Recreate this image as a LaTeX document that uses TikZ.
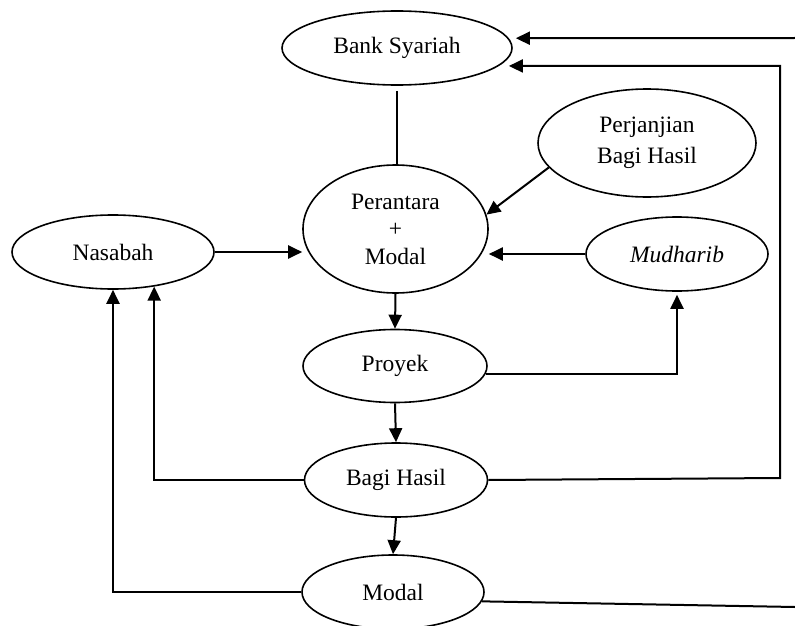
\documentclass[tikz,border=0pt]{standalone}
\usepackage{fontspec}
\setmainfont{Liberation Serif}
\usetikzlibrary{arrows.meta,shapes.geometric}

\tikzset{
  oval/.style={draw, ellipse, line width=1.6pt, inner sep=0pt,
    align=center, font=\fontsize{23.5}{27.5}\selectfont},
  flow/.style={line width=2pt, -{Triangle[length=14pt,width=13pt]}},
  link/.style={line width=2pt},
  tie/.style={line width=1.5pt}
}

\begin{document}
\begin{tikzpicture}[x=1pt,y=-1pt]
  \useasboundingbox (0,0) rectangle (795,626);

  % nodes
  \node[oval, minimum width=230pt, minimum height=74pt]  (bk)  at (397,48)   {Bank Syariah};
  \node[oval, minimum width=218pt, minimum height=108pt,
        font=\fontsize{23.5}{31.5}\selectfont]            (pj)  at (647,143)  {Perjanjian\\Bagi Hasil};
  \node[oval, minimum width=185pt, minimum height=128pt] (per) at (395.5,229) {Perantara\\+\\Modal};
  \node[oval, minimum width=202pt, minimum height=74pt]  (nas) at (113,252)  {Nasabah};
  \node[oval, minimum width=182pt, minimum height=74pt]  (mud) at (677,254)  {\itshape Mudharib};
  \node[oval, minimum width=184pt, minimum height=73pt]  (pro) at (395,366)  {Proyek};
  \node[oval, minimum width=183pt, minimum height=74pt]  (bh)  at (396,480)  {Bagi Hasil};
  \node[oval, minimum width=182pt, minimum height=74pt]  (mod) at (393,592)  {Modal};

  % loose ends at the right margin
  \coordinate (tp) at (795,38);
  \coordinate (rc) at (780,478);
  \coordinate (mr) at (795,607);

  % connectors
  \draw[tie, shorten <=5pt] (bk.south) -- (bk.south |- per.north);
  \draw[flow] (pj.194) -- (per.9);
  \draw[flow] (nas.east) -- (per.west |- nas.east);
  \draw[flow] (mud.west) -- (per.east |- mud.west);
  \draw[flow] (per.south) -- (pro.north);
  \draw[flow, shorten >=3pt] (pro.-5) -| (mud.south);
  \draw[flow] (pro.south) -- (bh.north);
  \draw[flow] (bh.south) -- (mod.north);
  \draw[flow] (bh.west) -| (nas.-40);
  \draw[flow] (mod.west) -| (nas.south);
  \draw[flow, shorten >=10pt] (bh.east) -- (rc) |- (bk.-10);
  \draw[flow, shorten >=7pt] (tp) -- (bk.5);
  \draw[link] (mod.-6.5) -- (mr);
\end{tikzpicture}
\end{document}
